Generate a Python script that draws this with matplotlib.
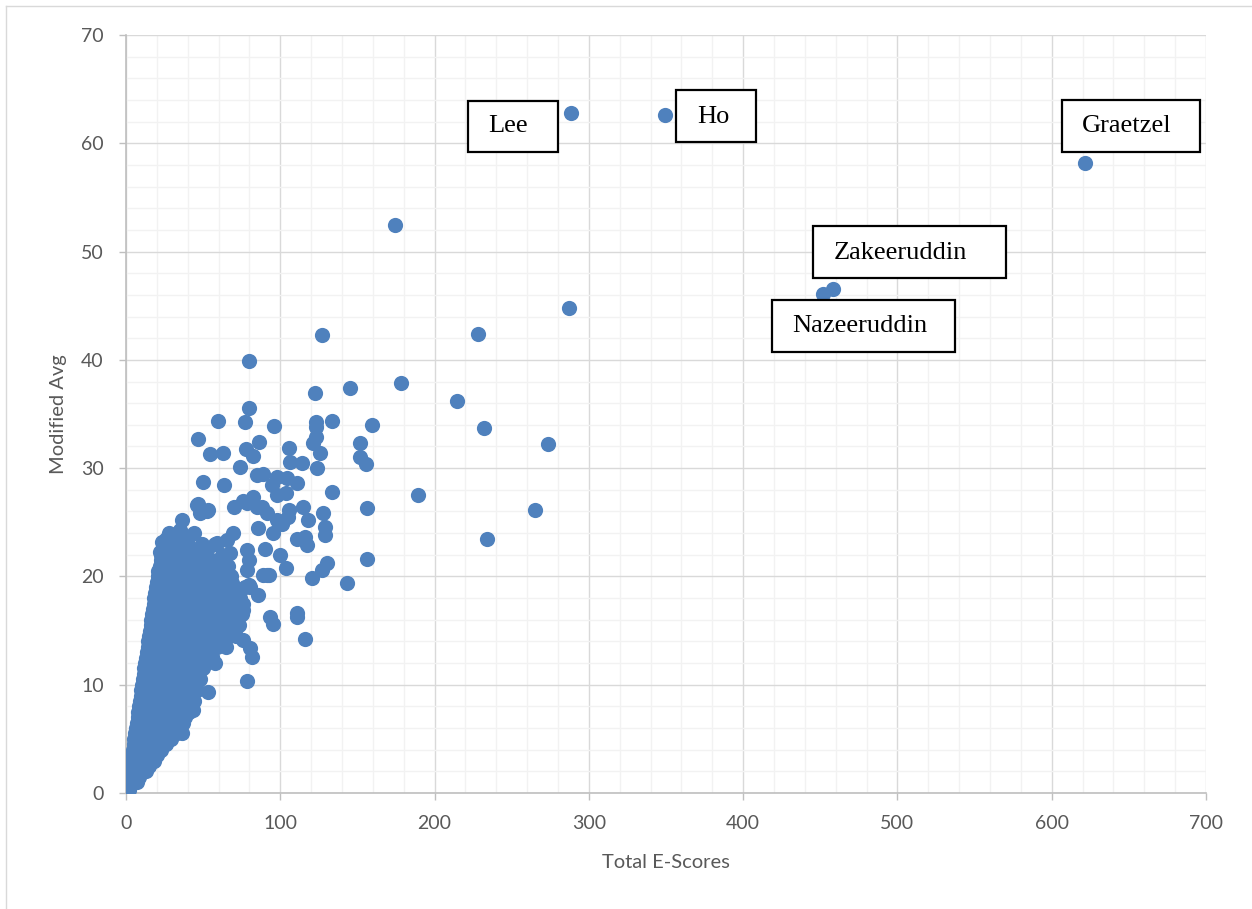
import matplotlib.pyplot as plt
from matplotlib.patches import Rectangle
from matplotlib.lines import Line2D
from matplotlib.ticker import MultipleLocator

# outlying researchers and the sparse part of the cloud
outer_x = [288.4, 349.3, 621.5, 458.2, 451.7, 174.3, 287.1, 228.1, 127.0, 79.7,
           178.2, 145.2, 214.5, 122.5, 79.7, 59.6, 77.1, 133.5, 159.4, 96.0,
           232.0, 273.5, 189.0, 265.0, 234.0, 46.7, 86.2, 54.4, 62.9, 78.0,
           82.3, 73.9, 85.0, 88.8, 49.9, 63.5, 46.7, 53.0, 70.0, 75.8,
           82.3, 88.0, 105.6, 106.3, 114.0, 123.0, 121.0, 125.7, 123.8, 123.0,
           123.0, 151.7, 151.7, 155.5, 94.6, 97.9, 104.3, 110.8, 103.7, 133.5,
           156.2, 105.6, 114.7, 105.0, 118.0, 127.7, 129.0, 95.3, 110.8, 116.0,
           117.3, 129.0, 156.0, 103.7, 130.3, 127.0, 120.5, 143.0, 88.8, 93.0,
           69.0, 80.0, 93.3, 95.3, 110.8, 110.8, 116.0, 81.7, 80.4, 78.4,
           69.3, 75.8, 73.9, 75.8, 85.5, 91.4, 80.4, 57.7, 55.7, 53.0,
           43.4, 37.0, 36.3, 36.3, 35.0, 33.7, 23.3, 22.0, 48.0, 52.5,
           46.0, 78.4, 85.0, 91.4, 97.9, 78.4, 80.0, 78.4, 52.5, 59.0,
           65.5, 69.3, 67.4, 85.5, 90.0, 100.0, 60.0, 65.0, 98.0, 101.0]
outer_y = [62.8, 62.6, 58.2, 46.5, 46.1, 52.5, 44.8, 42.4, 42.3, 39.9,
           37.9, 37.4, 36.2, 36.9, 35.6, 34.4, 34.3, 34.4, 34.0, 33.9,
           33.7, 32.2, 27.5, 26.1, 23.5, 32.7, 32.4, 31.3, 31.4, 31.8,
           31.1, 30.1, 29.4, 29.5, 28.7, 28.4, 26.7, 26.1, 26.4, 27.0,
           27.3, 26.4, 31.9, 30.6, 30.5, 32.9, 32.3, 31.4, 30.0, 34.3,
           33.8, 32.3, 31.0, 30.4, 28.4, 29.2, 29.1, 28.6, 27.7, 27.8,
           26.3, 26.1, 26.4, 25.5, 25.2, 25.9, 24.6, 24.0, 23.5, 23.6,
           22.9, 23.8, 21.6, 20.8, 21.2, 20.6, 19.9, 19.4, 20.1, 20.1,
           19.4, 19.2, 16.3, 15.6, 16.6, 16.3, 14.2, 12.6, 13.4, 10.3,
           15.7, 14.1, 17.2, 16.9, 18.3, 20.1, 19.0, 12.0, 12.6, 9.3,
           7.7, 6.5, 5.5, 25.2, 24.3, 23.4, 23.2, 22.3, 25.9, 26.0,
           26.6, 26.8, 26.4, 25.9, 25.2, 22.4, 21.5, 20.6, 22.4, 23.1,
           23.4, 24.0, 22.2, 24.5, 22.5, 22.0, 20.5, 21.0, 27.5, 24.8]

# dense wedge near the origin, one row of Total E-Scores per Modified Avg level
row_avg = [0.3, 0.8, 1, 1.5, 2, 2.5, 3, 3.5, 4, 4.5, 5, 5.5, 6, 6.5, 7, 7.5,
           8, 8.5, 9, 9.5, 10, 10.5, 11, 11.5, 12, 12.5, 13, 13.5, 14, 14.5,
           15, 15.5, 16, 16.5, 17, 17.5, 18, 18.5, 19, 19.5, 20, 20.5, 21,
           21.5, 22, 22.5, 23, 23.5, 24]
row_scores = [
    [0.5, 2],
    [1, 3.5],
    [1.5, 4, 7],
    [2, 5, 8.5],
    [2.5, 6, 10, 13],
    [3, 7, 11, 15],
    [3.5, 8, 13, 18],
    [4, 8, 12, 16, 20],
    [4.5, 9, 14, 19, 23],
    [5, 9, 13, 17, 21, 26],
    [5.5, 10, 15, 20, 25, 29],
    [6, 10, 14, 18, 23, 28, 33],
    [6.5, 12, 17, 22, 27, 32],
    [7, 11, 15, 20, 25, 30, 35],
    [7.5, 13, 18, 24, 29, 34, 38],
    [8, 12, 17, 22, 27, 32, 37, 41],
    [8.5, 14, 20, 26, 31, 36, 40],
    [9, 13, 18, 24, 30, 35, 40, 44],
    [9.5, 15, 21, 27, 33, 38, 42],
    [10, 14, 19, 25, 31, 37, 42, 46],
    [10.5, 16, 22, 28, 34, 40, 44],
    [11, 15, 20, 26, 32, 38, 43, 48],
    [11.5, 17, 23, 29, 35, 41, 46],
    [12, 16, 21, 27, 33, 39, 45, 50],
    [12.5, 18, 24, 30, 36, 42, 48],
    [13, 17, 22, 28, 34, 40, 46, 52, 56],
    [13.5, 19, 25, 31, 37, 43, 49, 53],
    [14, 18, 23, 29, 35, 41, 47, 53, 59, 65],
    [14.5, 20, 26, 32, 38, 44, 50, 56, 62],
    [15, 19, 24, 30, 36, 42, 48, 54, 60, 66, 71],
    [15.5, 21, 27, 33, 39, 45, 51, 57, 63, 68],
    [16, 20, 25, 31, 37, 43, 49, 55, 61, 67, 73],
    [16.5, 22, 28, 34, 40, 46, 52, 58, 64, 70],
    [17, 21, 26, 32, 38, 44, 50, 56, 62, 68, 75],
    [17.5, 23, 29, 35, 41, 47, 53, 59, 65, 72],
    [18, 22, 27, 33, 39, 45, 51, 57, 63, 69, 76],
    [18.5, 24, 30, 36, 42, 48, 54, 60, 66, 74],
    [19, 23, 28, 34, 40, 46, 52, 58, 64, 72],
    [19.5, 25, 31, 37, 43, 49, 56, 62, 70, 77],
    [20, 24, 29, 35, 41, 47, 54, 61, 67],
    [20.5, 26, 32, 38, 45, 52, 60, 68],
    [21, 25, 30, 36, 42, 50, 58, 64],
    [22, 28, 34, 41, 48, 57, 66],
    [22.5, 27, 32, 39, 46, 55],
    [23, 30, 37, 44, 52, 62],
    [24, 29, 35, 42, 50],
    [25, 33, 40, 49, 58],
    [26, 32, 39],
    [28, 36, 44],
]

# labelled names: box corners (x0, y0, x1, y1) and text anchor
names = ['Lee', 'Ho', 'Graetzel', 'Zakeeruddin', 'Nazeeruddin']
name_boxes = [(221.7, 59.2, 279.9, 63.9), (356.5, 60.1, 408.4, 64.9),
              (606.7, 59.2, 696.2, 64.0), (445.3, 47.6, 570.4, 52.4),
              (418.7, 40.7, 537.3, 45.5)]
name_text = [(234.6, 61.6), (370.0, 62.4), (619.6, 61.6), (458.9, 49.9),
             (431.6, 43.1)]

xs = list(outer_x)
ys = list(outer_y)
for avg, scores in zip(row_avg, row_scores):
    for s in scores:
        xs.append(s)
        ys.append(avg)

plt.rcParams['font.family'] = ['Lato', 'DejaVu Sans']

fig = plt.figure(figsize=(12.52, 9.09), dpi=100)
ax = fig.add_axes([0.1006, 0.1276, 0.8627, 0.8339])

ax.scatter(xs, ys, s=120, color='#4F81BD', linewidths=0, zorder=3)

for name, (x0, y0, x1, y1), (tx, ty) in zip(names, name_boxes, name_text):
    ax.add_patch(Rectangle((x0, y0), x1 - x0, y1 - y0, facecolor='white',
                           edgecolor='black', linewidth=1.6, zorder=4))
    ax.text(tx, ty, name, family='Liberation Serif', fontsize=19,
            va='center', ha='left', color='black', zorder=5)

ax.set_xlim(0, 700)
ax.set_ylim(0, 70)
ax.xaxis.set_major_locator(MultipleLocator(100))
ax.xaxis.set_minor_locator(MultipleLocator(20))
ax.yaxis.set_major_locator(MultipleLocator(10))
ax.yaxis.set_minor_locator(MultipleLocator(2))

ax.grid(which='minor', color='#F2F2F2', linewidth=1.0, zorder=0)
ax.grid(which='major', color='#D9D9D9', linewidth=1.0, zorder=1)
ax.set_axisbelow(True)

for side in ['top', 'right']:
    ax.spines[side].set_visible(False)
for side in ['left', 'bottom']:
    ax.spines[side].set_color('#BFBFBF')
    ax.spines[side].set_linewidth(1.2)

ax.tick_params(which='major', length=5, width=1, color='#BFBFBF',
               labelsize=14, labelcolor='#595959', pad=11)
ax.tick_params(which='minor', length=0)

ax.set_xlabel('Total E-Scores', fontsize=14.5, color='#595959', labelpad=16)
ax.set_ylabel('Modified Avg', fontsize=14.5, color='#595959', labelpad=10)

# light frame of the chart area (left and top edges)
fig.add_artist(Line2D([5.5 / 1252, 5.5 / 1252], [0, 1 - 5.5 / 909],
                      transform=fig.transFigure, color='#D9D9D9', linewidth=1))
fig.add_artist(Line2D([5.5 / 1252, 1], [1 - 5.5 / 909, 1 - 5.5 / 909],
                      transform=fig.transFigure, color='#D9D9D9', linewidth=1))

fig.savefig('out.png', dpi=100)
